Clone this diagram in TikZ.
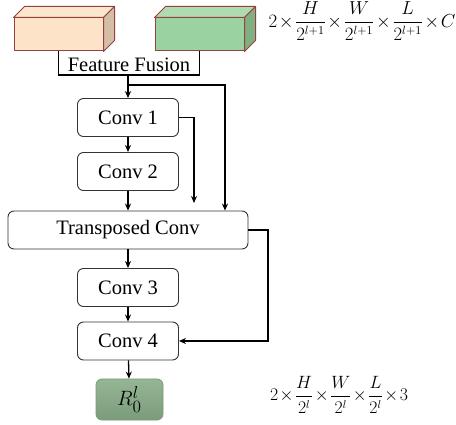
\documentclass[tikz,border=0pt]{standalone}
\usepackage{amsmath}
\usepackage{fontspec}
\setmainfont{Liberation Serif}
\usetikzlibrary{arrows.meta,calc}

\definecolor{peachF}{HTML}{FDE3C8}
\definecolor{peachT}{HTML}{FDE6CE}
\definecolor{peachS}{HTML}{D4BFA6}
\definecolor{greenF}{HTML}{9AD3A1}
\definecolor{greenT}{HTML}{AEDBB0}
\definecolor{greenS}{HTML}{7FB083}
\definecolor{edgeRed}{HTML}{983F3F}
\definecolor{outTop}{HTML}{95B695}
\definecolor{outBot}{HTML}{7A9C7A}
\definecolor{outEdge}{HTML}{7A9A7A}

% tight multiplication sign used in the size annotations
\newcommand{\tx}{\mkern1.5mu{\times}\mkern1.5mu}

\begin{document}
\begin{tikzpicture}[x=1pt,y=-1pt,
  convbox/.style={draw=black!80, line width=0.9pt, rounded corners=6pt,
    minimum width=101pt, minimum height=38pt, inner sep=0pt,
    font=\fontsize{20.5}{24}\selectfont},
  link/.style={line width=1.3pt},
  arr/.style={link, -{Stealth[length=7pt,width=6pt]}},
  face/.style={draw=edgeRed, line width=1pt, line join=round},
  frontface/.style={face, minimum width=89pt, minimum height=33pt, inner sep=0pt},
  dims/.style={inner sep=0pt, font=\fontsize{16}{18}\selectfont},
]
\useasboundingbox (0,0) rectangle (456,425);

% input feature blocks (front faces, then top and side faces)
\node[frontface, fill=peachF] (blockA) at (58.5,34.5) {};
\filldraw[face, fill=peachT] (blockA.north west) -- ($(blockA.north west)+(11,-11)$)
  -- ($(blockA.north east)+(11,-11)$) -- (blockA.north east) -- cycle;
\filldraw[face, fill=peachS] (blockA.north east) -- ($(blockA.north east)+(11,-11)$)
  -- ($(blockA.south east)+(11,-11)$) -- (blockA.south east) -- cycle;

\node[frontface, fill=greenF] (blockB) at (199.5,34.5) {};
\filldraw[face, fill=greenT] (blockB.north west) -- ($(blockB.north west)+(11,-11)$)
  -- ($(blockB.north east)+(11,-11)$) -- (blockB.north east) -- cycle;
\filldraw[face, fill=greenS] (blockB.north east) -- ($(blockB.north east)+(11,-11)$)
  -- ($(blockB.south east)+(11,-11)$) -- (blockB.south east) -- cycle;

% fusion
\node[inner sep=0pt, font=\fontsize{20.5}{24}\selectfont] (fusionlabel) at (129,65) {Feature Fusion};
\coordinate (fuse) at (128,75);
\draw[link] (blockA.south) |- (fuse) -| (blockB.south);

% main column
\node[convbox] (conv1) at (128,117.5) {Conv 1};
\node[convbox] (conv2) at (128,171.5) {Conv 2};
\node[convbox, minimum width=240pt] (tconv) at (128,230) {Transposed Conv};
\node[convbox] (conv3) at (128,287.5) {Conv 3};
\node[convbox] (conv4) at (128,341) {Conv 4};
\node[draw=outEdge, line width=0.8pt, rounded corners=6pt, top color=outTop, bottom color=outBot,
  minimum width=67pt, minimum height=41pt, inner sep=0pt,
  font=\fontsize{19}{22}\selectfont] (out) at (129.5,399.5) {\scalebox{1.2}{$R_0^{l}$}};

\draw[arr] (fuse) -- (conv1);
\draw[arr] (conv1) -- (conv2);
\draw[arr] (conv2) -- (tconv);
\draw[arr] (tconv) -- (conv3);
\draw[arr] (conv3) -- (conv4);
\draw[arr] (conv4) -- (out);

% skip connections
\coordinate (split) at (128,85);
\coordinate (skipA) at (225,85);
\draw[arr] (split) -- (skipA) -- (skipA |- tconv.north);
\coordinate (skipB) at (194,203);
\draw[arr] (conv1.east) -| (skipB);
\coordinate (skipC) at (268,230);
\draw[arr] (tconv.east) -- (skipC) |- (conv4.east);

% tensor sizes
\node[dims] (sizeIn) at (362,21)
  {\scalebox{1.09}{$2\tx\dfrac{H}{2^{l+1}}\tx\dfrac{W}{2^{l+1}}\tx\dfrac{L}{2^{l+1}}\tx C$}};
\node[dims] (sizeOut) at (339,395)
  {\scalebox{1.03}{$2\tx\dfrac{H}{2^{l}}\tx\dfrac{W}{2^{l}}\tx\dfrac{L}{2^{l}}\tx 3$}};
\end{tikzpicture}
\end{document}
